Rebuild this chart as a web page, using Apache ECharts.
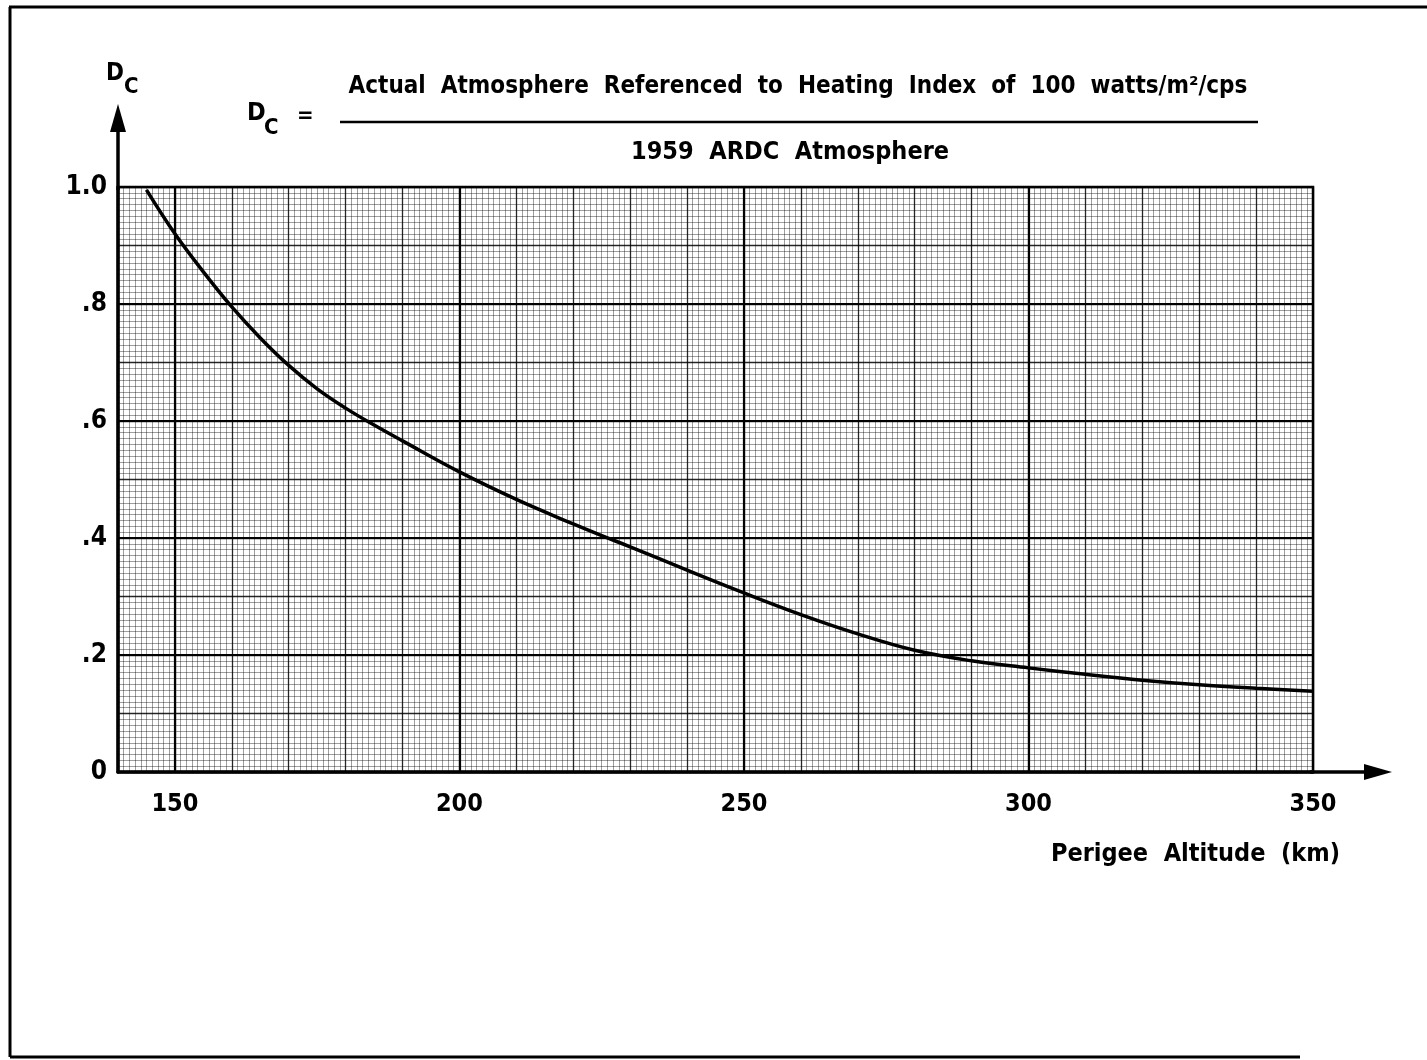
<!DOCTYPE html>
<html>
<head>
<meta charset="utf-8">
<title>Dc vs Perigee Altitude</title>
<script src="https://cdn.jsdelivr.net/npm/echarts@6/dist/echarts.min.js"></script>
<style>
  html, body { margin: 0; padding: 0; background: #fff; }
  #board { width: 1427px; height: 1060px; }
</style>
</head>
<body>
<div id="board"></div>
<script>
// perigee altitude (km) and Dc
var altitude = [145, 150, 155, 160, 165, 170, 175, 180, 185, 190, 200, 210, 220, 225, 230, 240, 250, 260, 270, 280, 290, 300, 310, 320, 330, 340, 350];
var dcValues = [0.995, 0.92, 0.855, 0.795, 0.742, 0.695, 0.655, 0.622, 0.593, 0.566, 0.513, 0.466, 0.424, 0.404, 0.385, 0.345, 0.306, 0.269, 0.236, 0.208, 0.19, 0.178, 0.167, 0.157, 0.149, 0.143, 0.138];

// heavy lines of the graph paper
var heavyX = [150, 200, 250, 300];
var heavyY = [0.2, 0.4, 0.6, 0.8];

var font = "'DejaVu Sans Condensed', 'Liberation Sans Narrow', sans-serif";

var chart = echarts.init(document.getElementById("board"));

var markData = [];
heavyX.forEach(function (v) { markData.push({ xAxis: v }); });
heavyY.forEach(function (v) { markData.push({ yAxis: v }); });

var option = {
  animation: false,
  backgroundColor: "#fff",
  grid: {
    left: 118, right: 114, top: 187, bottom: 288,
    show: true, borderColor: "#000", borderWidth: 2.5
  },
  xAxis: {
    type: "value",
    min: 140, max: 350, interval: 10,
    axisLine: { show: true, lineStyle: { color: "#000", width: 3.5 } },
    axisTick: { show: false },
    axisLabel: {
      margin: 20,
      color: "#000",
      fontFamily: font,
      fontWeight: "bold",
      fontSize: 25,
      formatter: function (v) { return v % 50 === 0 ? String(v) : ""; }
    },
    splitLine: { show: true, lineStyle: { color: "rgba(0,0,0,0.85)", width: 1.3 } },
    minorTick: { show: false, splitNumber: 10 },
    minorSplitLine: { show: true, lineStyle: { color: "rgba(0,0,0,0.38)", width: 1 } }
  },
  yAxis: {
    type: "value",
    min: 0, max: 1, interval: 0.1,
    axisLine: { show: true, lineStyle: { color: "#000", width: 3.5 } },
    axisTick: { show: false },
    axisLabel: {
      margin: 11,
      color: "#000",
      fontFamily: font,
      fontWeight: "bold",
      fontSize: 26,
      formatter: function (v) {
        var k = Math.round(v * 10);
        if (k % 2 !== 0) return "";
        if (k === 0) return "0";
        if (k === 10) return "1.0";
        return "." + k;
      }
    },
    splitLine: { show: true, lineStyle: { color: "rgba(0,0,0,0.85)", width: 1.3 } },
    minorTick: { show: false, splitNumber: 10 },
    minorSplitLine: { show: true, lineStyle: { color: "rgba(0,0,0,0.38)", width: 1 } }
  },
  series: [
    {
      type: "line",
      data: altitude.map(function (a, i) { return [a, dcValues[i]]; }),
      smooth: 0.4,
      symbol: "none",
      lineStyle: { color: "#000", width: 3.5 },
      z: 5,
      markLine: {
        silent: true,
        symbol: "none",
        label: { show: false },
        lineStyle: { color: "#000", width: 2.2, type: "solid" },
        data: markData
      }
    }
  ],
  graphic: [
    // page frame
    { type: "line", shape: { x1: 9, y1: 7, x2: 1427, y2: 7 }, style: { stroke: "#000", lineWidth: 3 } },
    { type: "line", shape: { x1: 10, y1: 7, x2: 10, y2: 1057 }, style: { stroke: "#000", lineWidth: 3 } },
    { type: "line", shape: { x1: 10, y1: 1057, x2: 1300, y2: 1057 }, style: { stroke: "#000", lineWidth: 3 } },
    // y axis arrow
    { type: "line", shape: { x1: 118, y1: 190, x2: 118, y2: 125 }, style: { stroke: "#000", lineWidth: 3.5 } },
    { type: "polygon", shape: { points: [[118, 104], [110, 132], [126, 132]] }, style: { fill: "#000" } },
    // x axis arrow
    { type: "line", shape: { x1: 1310, y1: 772, x2: 1370, y2: 772 }, style: { stroke: "#000", lineWidth: 3.5 } },
    { type: "polygon", shape: { points: [[1392, 772], [1364, 764], [1364, 780]] }, style: { fill: "#000" } },
    // y axis name
    { type: "text", left: 106, top: 62, style: { text: "D", font: "bold 24px " + font, fill: "#000" } },
    { type: "text", left: 124, top: 76, style: { text: "C", font: "bold 22px " + font, fill: "#000" } },
    // formula
    { type: "text", left: 247, top: 101, style: { text: "D", font: "bold 25px " + font, fill: "#000" } },
    { type: "text", left: 264, top: 117, style: { text: "C", font: "bold 22px " + font, fill: "#000" } },
    { type: "text", left: 297, top: 105, style: { text: "=", font: "bold 22px " + font, fill: "#000" } },
    { type: "line", shape: { x1: 340, y1: 122, x2: 1258, y2: 122 }, style: { stroke: "#000", lineWidth: 2.5 } },
    {
      type: "text", x: 798, y: 87,
      style: {
        text: "Actual  Atmosphere  Referenced  to  Heating  Index  of  100  watts/m\u00b2/cps",
        font: "bold 24px " + font, fill: "#000", align: "center", verticalAlign: "middle"
      }
    },
    {
      type: "text", x: 790, y: 152,
      style: {
        text: "1959  ARDC  Atmosphere",
        font: "bold 25px " + font, fill: "#000", align: "center", verticalAlign: "middle"
      }
    },
    // x axis name
    {
      type: "text", x: 1340, y: 854,
      style: {
        text: "Perigee  Altitude  (km)",
        font: "bold 25px " + font, fill: "#000", align: "right", verticalAlign: "middle"
      }
    }
  ]
};

chart.setOption(option);
</script>
</body>
</html>
